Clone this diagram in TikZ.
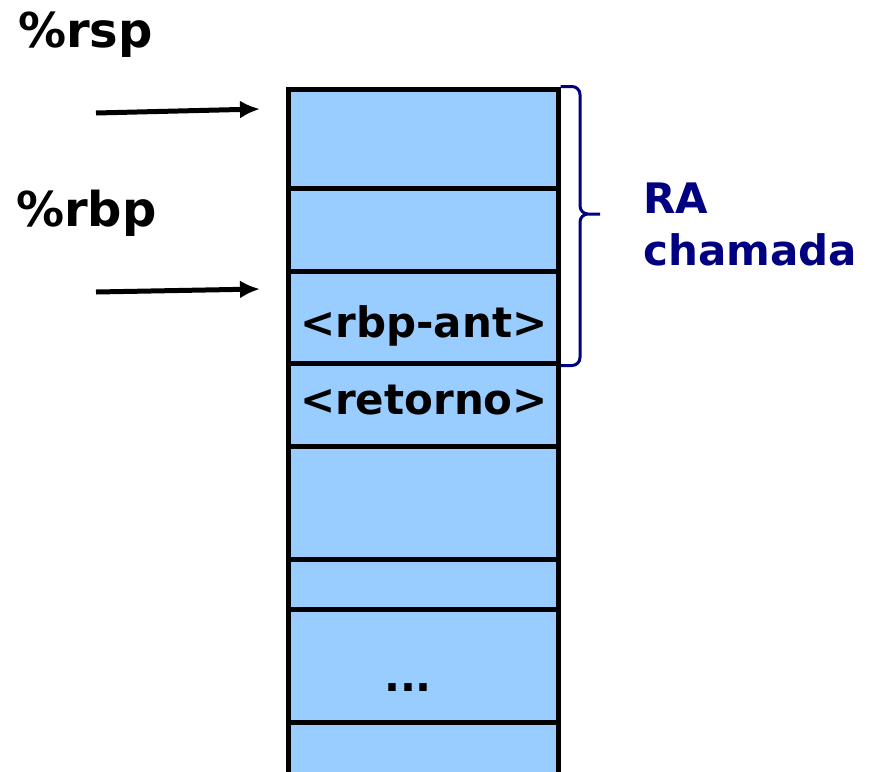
\documentclass[tikz,border=0pt]{standalone}
\usepackage{xcolor}
\usepackage{fontspec}
\setmainfont{DejaVu Sans}
\definecolor{stackblue}{HTML}{99CCFF}
\definecolor{ranavy}{HTML}{000080}
\usetikzlibrary{arrows.meta, positioning}

\tikzset{
  cell/.style={draw=black, line width=5pt, fill=stackblue, minimum width=270pt, inner sep=0pt},
  celltext/.style={font=\fontsize{42}{50}\selectfont\bfseries},
  reglabel/.style={font=\fontsize{48}{56}\selectfont\bfseries, inner sep=0pt, anchor=west},
  regarrow/.style={line width=5pt, -{Latex[length=20pt,width=18pt]}}
}

\begin{document}
\begin{tikzpicture}[x=1pt, y=-1pt]
\useasboundingbox (0,0) rectangle (874,771);

% Stack cells
\node[cell, minimum height=99pt] (c1) at (423,138.5) {};
\node[cell, minimum height=83pt] (c2) at (423,229.5) {};
\node[cell, minimum height=92pt] (c3) at (423,317) {};
\node[cell, minimum height=83pt] (c4) at (423,404.5) {};
\node[cell, minimum height=113pt] (c5) at (423,502.5) {};
\node[cell, minimum height=50pt] (c6) at (423,584) {};
\node[cell, minimum height=113pt] (c7) at (423,665.5) {};
\node[cell, minimum height=80pt] (c8) at (423,762) {};

% Cell contents
\node[celltext] (rbpant) at (424,326) {<rbp-ant>};
\node[celltext] (retorno) at (424,400) {<retorno>};
\node[celltext] (dots) at (408,688) {...};

% Registers
\node[reglabel] (rsp) at (18,35) {\%rsp};
\node[reglabel] (rbp) at (16,213) {\%rbp};
\coordinate (rspfrom) at (96,113);
\coordinate (rspto) at (260,109);
\coordinate (rbpfrom) at (96,292);
\coordinate (rbpto) at (260,289);
\draw[regarrow] (rspfrom) -- (rspto);
\draw[regarrow] (rbpfrom) -- (rbpto);

% Activation record brace
\coordinate (tip) at (580,214);
\draw[ranavy, line width=3pt, rounded corners=8pt]
  (c1.north east) -| (tip) -- (600,214)
  (c3.south east) -| (tip) -- (600,214);
\node[font=\fontsize{42}{52}\selectfont\bfseries, text=ranavy, align=left,
      anchor=west, inner sep=0pt] (ra) at (643,224) {RA\\chamada};
\end{tikzpicture}
\end{document}
